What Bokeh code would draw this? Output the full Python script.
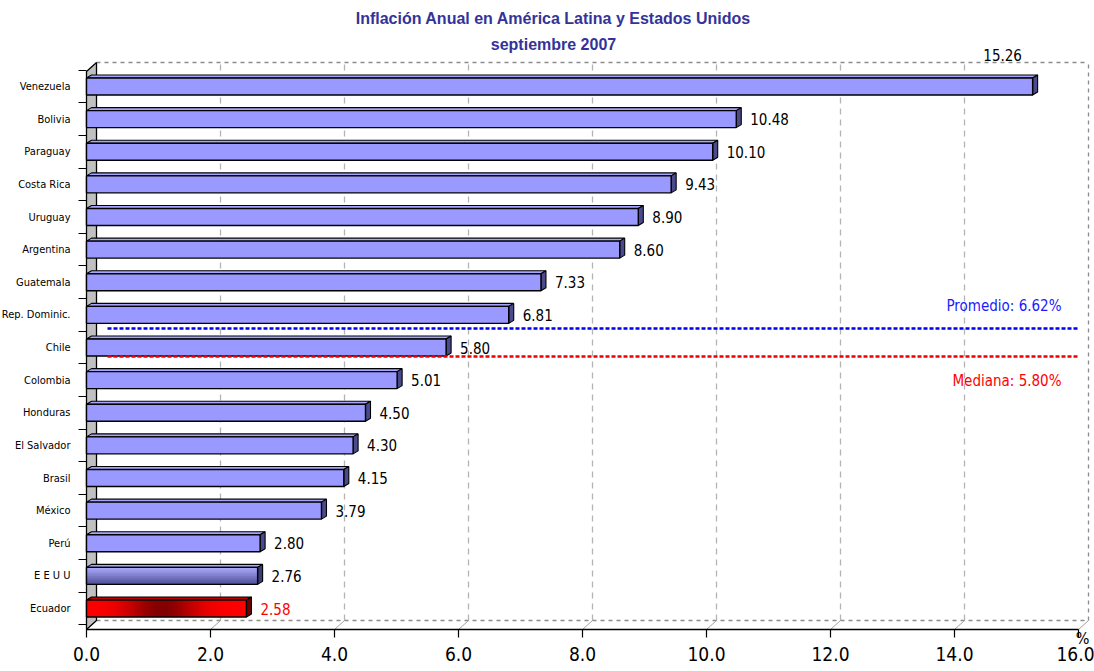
import math
from bokeh.plotting import figure
from bokeh.models import Range1d, FixedTicker, NumeralTickFormatter
from bokeh.core.properties import value
from bokeh.embed import file_html
from bokeh.resources import INLINE

# ---------------- data ----------------
paises = ["Venezuela", "Bolivia", "Paraguay", "Costa Rica", "Uruguay", "Argentina",
          "Guatemala", "Rep. Dominic.", "Chile", "Colombia", "Honduras", "El Salvador",
          "Brasil", "México", "Perú", "E E U U", "Ecuador"]
inflacion = [15.26, 10.48, 10.10, 9.43, 8.90, 8.60, 7.33, 6.81, 5.80, 5.01, 4.50,
             4.30, 4.15, 3.79, 2.80, 2.76, 2.58]
x_ticks = [0, 2, 4, 6, 8, 10, 12, 14, 16]
promedio = 6.62
mediana = 5.80
titulo = "Inflación Anual en América Latina y Estados Unidos"
subtitulo = "septiembre 2007"
unidad = "%"

# ---------------- style ----------------
FONT = "'DejaVu Sans Condensed', Roboto, sans-serif"
TFONT = "Liberation Sans"
PX_X = 62.0
PX_Y = 32.625


def dxp(px):
    return px / PX_X


def dyp(px):
    return px / PX_Y


n = len(paises)
ypos = [n - 1 - i for i in range(n)]
xmax = x_ticks[-1]

# the frame fills the whole canvas; both axes are pinned inside it
y_axis = -dyp(21)               # x-axis line, 21 px below the last bar
y_start = y_axis - dyp(42)
y_end = (n - 1) + dyp(86)
x_start = -dxp(86)
x_end = dxp(1094 - 86)

p = figure(width=1094, height=671, x_range=Range1d(x_start, x_end),
           y_range=Range1d(y_start, y_end),
           output_backend="svg", toolbar_location=None, title_location=None,
           min_border_left=0, min_border_right=0, min_border_top=0, min_border_bottom=0)
p.outline_line_color = None
p.grid.visible = False
p.background_fill_color = "white"
p.border_fill_color = "white"

# ---------------- axes ----------------
xa = p.xaxis[0]
xa.fixed_location = y_axis
xa.bounds = (0, xmax)
xa.ticker = FixedTicker(ticks=x_ticks)
xa.formatter = NumeralTickFormatter(format="0.0")
xa.major_label_text_font = FONT
xa.major_label_text_font_size = "19px"
xa.major_label_text_color = "black"
xa.major_tick_out = 8
xa.major_tick_in = 0
xa.minor_tick_line_color = None
xa.axis_line_color = "black"
xa.axis_line_width = 1.5
xa.major_tick_line_color = "black"
xa.major_tick_line_width = 1.2
xa.major_label_standoff = 9

ya = p.yaxis[0]
ya.fixed_location = 0
ya.bounds = (y_axis, y_end)
ya.ticker = FixedTicker(ticks=ypos, minor_ticks=[i - 0.5 for i in range(n + 1)])
ya.major_label_overrides = {yy: name for yy, name in zip(ypos, paises)}
ya.major_label_text_font = FONT
ya.major_label_text_font_size = "11px"
ya.major_label_text_color = "black"
ya.major_tick_out = 0
ya.major_tick_in = 0
ya.major_tick_line_color = None
ya.minor_tick_out = 8
ya.minor_tick_in = 0
ya.minor_tick_line_color = "black"
ya.minor_tick_line_width = 1.2
ya.axis_line_color = None
ya.major_label_standoff = 8

# ---------------- 3D back walls ----------------
DX = dxp(10)
DY = dyp(9)
y_floor = y_axis + DY
y_top = (n - 1) + dyp(24)

inner = x_ticks[1:-1]
p.segment(x0=[t + DX for t in inner], y0=[y_floor] * len(inner),
          x1=[t + DX for t in inner], y1=[y_top] * len(inner),
          line_color="#b4b4b4", line_dash="6 5", line_width=1.3)
p.segment(x0=[DX, DX, xmax + DX], y0=[y_top, y_floor, y_floor],
          x1=[xmax + DX, xmax + DX, xmax + DX], y1=[y_top, y_floor, y_top],
          line_color="#8c8c8c", line_dash="4 4", line_width=1.3)
p.segment(x0=x_ticks[1:], y0=[y_axis] * (len(x_ticks) - 1),
          x1=[t + DX for t in x_ticks[1:]], y1=[y_floor] * (len(x_ticks) - 1),
          line_color="#a0a0a0", line_width=1)
p.patch(x=[0, 0, DX, DX], y=[y_axis, y_top - DY, y_top, y_floor],
        fill_color="#c0c0c0", line_color="black", line_width=1.3)

# ---------------- bars ----------------
H = 0.52
bx = dxp(5)
by = dyp(3)

top_col, side_col = [], []
for name in paises:
    if name == "Ecuador":
        top_col.append("#c00000"); side_col.append("#700000")
    elif name == "E E U U":
        top_col.append("#a8a8ff"); side_col.append("#3c3c7c")
    else:
        top_col.append("#a6a6ff"); side_col.append("#4a4a8c")

top_xs, top_ys, side_xs, side_ys = [], [], [], []
for v, y in zip(inflacion, ypos):
    t = y + H / 2
    b = y - H / 2
    top_xs.append([0, v, v + bx, bx]); top_ys.append([t, t, t + by, t + by])
    side_xs.append([v, v + bx, v + bx, v]); side_ys.append([b, b + by, t + by, t])

p.patches(xs=top_xs, ys=top_ys, fill_color=top_col, line_color="black", line_width=1.1)
p.patches(xs=side_xs, ys=side_ys, fill_color=side_col, line_color="black", line_width=1.1)

plain = [i for i, nm in enumerate(paises) if nm not in ("Ecuador", "E E U U")]
p.hbar(y=[ypos[i] for i in plain], right=[inflacion[i] for i in plain], left=0, height=H,
       fill_color="#9999ff", line_color=None)

# EEUU: vertical gradient (each stripe runs to the bottom so no seams appear)
i_us = paises.index("E E U U")
NS = 12
c0 = (0xa8, 0xa8, 0xf8)
c1 = (0x50, 0x50, 0x9c)
for k in range(NS):
    f = k / (NS - 1)
    col = "#%02x%02x%02x" % tuple(int(c0[j] + (c1[j] - c0[j]) * f) for j in range(3))
    top = ypos[i_us] + H / 2 - H * k / NS
    p.quad(left=0, right=inflacion[i_us], top=top, bottom=ypos[i_us] - H / 2,
           fill_color=col, line_color=None)

# Ecuador: horizontal red gradient (each segment runs to the bar end)
i_ec = paises.index("Ecuador")
v_ec = inflacion[i_ec]
NE = 60
for k in range(NE):
    f = (k + 0.5) / NE
    d = math.exp(-((f - 0.47) / 0.22) ** 2)
    r = int(255 - 125 * d)
    col = "#%02x0000" % r
    p.quad(left=v_ec * k / NE, right=v_ec,
           top=ypos[i_ec] + H / 2, bottom=ypos[i_ec] - H / 2,
           fill_color=col, line_color=None)

p.hbar(y=ypos, right=inflacion, left=0, height=H, fill_color=None,
       line_color="black", line_width=1.4)

# ---------------- value labels ----------------
lab_txt = ["%.2f" % v for v in inflacion]
lab_col = ["#ff0000" if nm == "Ecuador" else "black" for nm in paises]
fits = [v + dxp(50) < xmax for v in inflacion]
lab_xoff = [14 if ok else -30 for ok in fits]
lab_yoff = [0 if ok else -32 for ok in fits]
lab_align = ["left" if ok else "center" for ok in fits]
p.text(x=inflacion, y=ypos, text=lab_txt, x_offset=lab_xoff, y_offset=lab_yoff,
       text_align=lab_align, text_baseline="middle", text_color=lab_col,
       text_font=value(FONT), text_font_size="15px")

# ---------------- average / median lines ----------------
i_ch = paises.index("Chile")
y_avg = ypos[i_ch] + dyp(19)
y_med = ypos[i_ch] - dyp(9)
lx0 = dxp(21)
lx1 = dxp(992)
p.segment(x0=[lx0], y0=[y_avg], x1=[lx1], y1=[y_avg], line_color="#0000ee",
          line_width=2.5, line_dash="4 2")
p.segment(x0=[lx0], y0=[y_med], x1=[lx1], y1=[y_med], line_color="#ee0000",
          line_width=2.5, line_dash="4 2")
p.text(x=[dxp(975), dxp(975)], y=[ypos[i_ch] + dyp(42), ypos[i_ch] - dyp(33)],
       text=["Promedio: %.2f%%" % promedio, "Mediana: %.2f%%" % mediana],
       text_align="right", text_baseline="middle", text_color=["#1a1aff", "#ff0000"],
       text_font=value(FONT), text_font_size="15px")

# ---------------- titles ----------------
p.text(x=[dxp(467), dxp(467)], y=[(n - 1) + dyp(68), (n - 1) + dyp(42)],
       text=[titulo, subtitulo], text_align="center", text_baseline="middle",
       text_color="#333399", text_font=value(TFONT), text_font_style="bold",
       text_font_size="16px")

# unit mark under the end of the axis
p.text(x=[xmax], y=[y_axis], text=[unidad], x_offset=[4], y_offset=[9],
       text_align="center", text_baseline="middle", text_color="black",
       text_font=value(FONT), text_font_size="16px")

open("out.html", "w").write(file_html(p, INLINE))
